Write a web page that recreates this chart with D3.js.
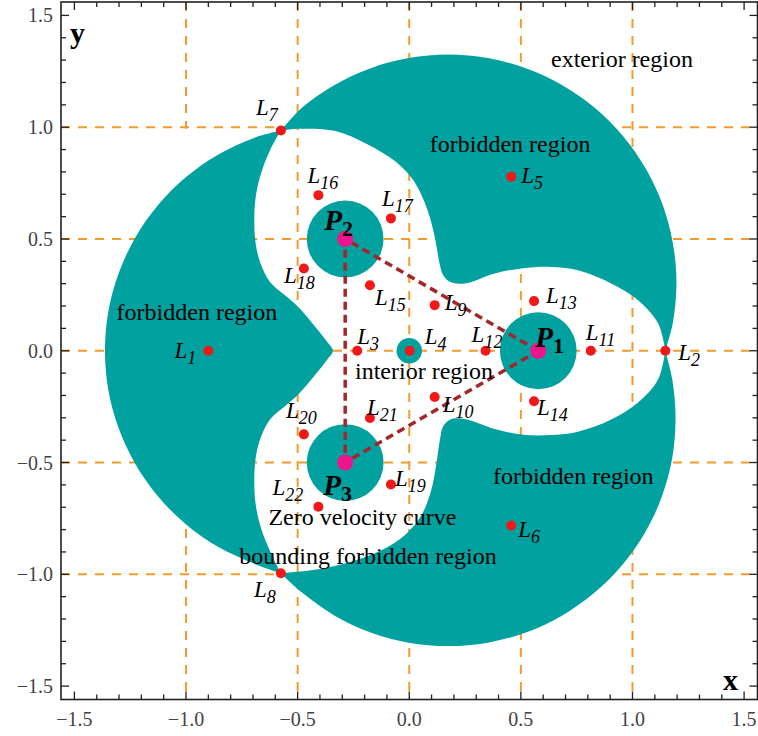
<!DOCTYPE html>
<html><head><meta charset="utf-8">
<script src="https://cdn.jsdelivr.net/npm/d3@7"></script>
<style>body{margin:0;background:#fff}svg{display:block}</style>
</head><body><svg id="c" width="758" height="736"></svg>
<script>
// ---------------- data ----------------
const axisDomain = [-1.56, 1.56];
const majorTicks = [-1.5, -1.0, -0.5, 0.0, 0.5, 1.0, 1.5];
const majorTickLabels = ["\u22121.5", "\u22121.0", "\u22120.5", "0.0", "0.5", "1.0", "1.5"];
const gridValues = [-1.0, -0.5, 0.0, 0.5, 1.0];
const gridGaps = [{ axis: "x", value: -1.0, from: 0.70, to: 0.993 }];

const primaries = [
  { id: "1", x: 0.578, y: 0.000 },
  { id: "2", x: -0.287, y: 0.500 },
  { id: "3", x: -0.287, y: -0.500 }
];
const primaryDiskRadius = 0.172;
const centralDisk = { x: 0.0, y: 0.0, r: 0.057 };

const equilibria = [
  { id: 1, x: -0.900, y: 0.000 }, { id: 2, x: 1.147, y: 0.000 },
  { id: 3, x: -0.233, y: 0.000 }, { id: 4, x: 0.002, y: 0.000 },
  { id: 5, x: 0.457, y: 0.778 }, { id: 6, x: 0.457, y: -0.782 },
  { id: 7, x: -0.575, y: 0.985 }, { id: 8, x: -0.575, y: -0.995 },
  { id: 9, x: 0.114, y: 0.204 }, { id: 10, x: 0.114, y: -0.207 },
  { id: 11, x: 0.813, y: 0.000 }, { id: 12, x: 0.342, y: 0.000 },
  { id: 13, x: 0.559, y: 0.222 }, { id: 14, x: 0.559, y: -0.226 },
  { id: 15, x: -0.176, y: 0.293 }, { id: 16, x: -0.407, y: 0.696 },
  { id: 17, x: -0.082, y: 0.592 }, { id: 18, x: -0.472, y: 0.368 },
  { id: 19, x: -0.082, y: -0.598 }, { id: 20, x: -0.472, y: -0.374 },
  { id: 21, x: -0.176, y: -0.301 }, { id: 22, x: -0.407, y: -0.698 }
];

// forbidden region: three lobes (outer edge, then inner edge = zero velocity curve)
const lobeUpperOuter = [[1.147,0.000],[1.181,0.126],[1.197,0.303],[1.181,0.480],[1.135,0.653],[1.060,0.814],[0.958,0.960],[0.832,1.086],[0.686,1.188],[0.525,1.263],[0.352,1.309],[0.175,1.325],[-0.002,1.309],[-0.175,1.263],[-0.336,1.188],[-0.482,1.086],[-0.575,0.985]];
const lobeUpperInner = [[-0.575,0.985],[-0.489,0.993],[-0.330,0.983],[-0.190,0.925],[-0.060,0.845],[0.020,0.760],[0.080,0.635],[0.115,0.505],[0.137,0.385],[0.152,0.338],[0.185,0.307],[0.248,0.301],[0.383,0.346],[0.502,0.368],[0.636,0.375],[0.756,0.360],[0.905,0.301],[1.025,0.226],[1.115,0.122],[1.147,0.000]];
const lobeLeftOuter = [[-0.575,0.985],[-0.696,0.952],[-0.857,0.877],[-1.001,0.776],[-1.126,0.651],[-1.227,0.507],[-1.302,0.346],[-1.348,0.176],[-1.363,0.000],[-1.348,-0.176],[-1.302,-0.346],[-1.227,-0.507],[-1.126,-0.651],[-1.001,-0.776],[-0.857,-0.877],[-0.696,-0.952],[-0.575,-0.995]];
const lobeLeftInner = [[-0.575,-0.995],[-0.622,-0.900],[-0.662,-0.800],[-0.686,-0.700],[-0.694,-0.600],[-0.688,-0.480],[-0.666,-0.390],[-0.622,-0.305],[-0.557,-0.248],[-0.497,-0.196],[-0.415,-0.100],[-0.368,-0.040],[-0.342,0.000],[-0.368,0.040],[-0.415,0.100],[-0.497,0.196],[-0.557,0.248],[-0.622,0.305],[-0.666,0.390],[-0.688,0.480],[-0.694,0.600],[-0.686,0.700],[-0.662,0.800],[-0.622,0.900],[-0.575,0.985]];
const lobeLowerOuter = [[-0.575,-0.995],[-0.479,-1.083],[-0.334,-1.185],[-0.173,-1.260],[-0.002,-1.306],[0.175,-1.321],[0.352,-1.306],[0.523,-1.260],[0.684,-1.185],[0.829,-1.083],[0.955,-0.957],[1.057,-0.812],[1.132,-0.651],[1.178,-0.480],[1.193,-0.303],[1.178,-0.126],[1.147,0.000]];
const lobeLowerInner = [[1.147,0.000],[1.115,-0.128],[1.025,-0.232],[0.905,-0.308],[0.756,-0.362],[0.636,-0.377],[0.502,-0.375],[0.383,-0.350],[0.248,-0.305],[0.185,-0.307],[0.152,-0.338],[0.137,-0.400],[0.120,-0.515],[0.098,-0.625],[0.055,-0.735],[-0.020,-0.825],[-0.120,-0.890],[-0.265,-0.945],[-0.415,-0.978],[-0.575,-0.995]];

const regionTexts = [
  { text: "exterior region", x: 0.635, y: 1.269 },
  { text: "forbidden region", x: 0.092, y: 0.890 },
  { text: "forbidden region", x: -1.311, y: 0.137 },
  { text: "interior region", x: -0.243, y: -0.128 },
  { text: "forbidden region", x: 0.375, y: -0.594 },
  { text: "Zero velocity curve", x: -0.631, y: -0.781 },
  { text: "bounding forbidden region", x: -0.761, y: -0.956 }
];

// ---------------- layout ----------------
const labelOffset = {
  1:[-12,7,"end"], 2:[13,9], 3:[0,-7], 4:[15,-7], 5:[10,6], 6:[7,11], 7:[-25,-16], 8:[-27,24],
  9:[10,5], 10:[8,15], 11:[-5,-11], 12:[-14,-9], 13:[12,2], 14:[3,14], 15:[5,20], 16:[-11,-12],
  17:[-9,-12], 18:[-20,15], 19:[4,2], 20:[-18,-16], 21:[-3,-3], 22:[-46,-12]
};
const primaryOffset = { "1": [-3,-4], "2": [-21,-9], "3": [-22,32] };

const C = {
  teal: "#00a19f", grid: "#f49a2f", tri: "#a3262a", red: "#f01818",
  magenta: "#ec158c", frame: "#222", tick: "#444", serif: "'Liberation Serif','Times New Roman',serif"
};

const svg = d3.select("#c");
const x = d3.scaleLinear().domain(axisDomain).range([61, 757.5]);
const y = d3.scaleLinear().domain(axisDomain).range([699.5, 2]);

svg.append("rect").attr("width", 758).attr("height", 736).attr("fill", "#fff");

// grid
const gG = svg.append("g").attr("stroke", C.grid).attr("stroke-width", 2).attr("stroke-dasharray", "9,8");
gridValues.forEach(v => {
  gG.append("line").attr("x1", x(v)).attr("x2", x(v)).attr("y1", y(axisDomain[1])).attr("y2", y(axisDomain[0]));
  gG.append("line").attr("y1", y(v)).attr("y2", y(v)).attr("x1", x(axisDomain[0])).attr("x2", x(axisDomain[1]));
});
gridGaps.forEach(g => {
  svg.append("line").attr("x1", x(g.value)).attr("x2", x(g.value))
    .attr("y1", y(g.to)).attr("y2", y(g.from)).attr("stroke", "#fff").attr("stroke-width", 4);
});

// forbidden region
const line = d3.line().x(d => x(d[0])).y(d => y(d[1])).curve(d3.curveCatmullRom.alpha(0.5));
function lobe(outer, inner) { return line(outer) + "L" + line(inner).slice(1) + "Z"; }
const fG = svg.append("g").attr("fill", C.teal);
[[lobeUpperOuter, lobeUpperInner], [lobeLeftOuter, lobeLeftInner], [lobeLowerOuter, lobeLowerInner]]
  .forEach(([o, i]) => fG.append("path").attr("d", lobe(o, i)));
const rpx = r => x(r) - x(0);
primaries.forEach(p => fG.append("circle").attr("cx", x(p.x)).attr("cy", y(p.y)).attr("r", rpx(primaryDiskRadius)));
fG.append("circle").attr("cx", x(centralDisk.x)).attr("cy", y(centralDisk.y)).attr("r", rpx(centralDisk.r));

// triangle of primaries
svg.append("path")
  .attr("d", d3.line().x(d => x(d.x)).y(d => y(d.y))([...primaries, primaries[0]]))
  .attr("fill", "none").attr("stroke", C.tri).attr("stroke-width", 3.5).attr("stroke-dasharray", "8,5");

// equilibrium points
svg.append("g").selectAll("circle").data(equilibria).join("circle")
  .attr("cx", d => x(d.x)).attr("cy", d => y(d.y)).attr("r", 5).attr("fill", C.red);
svg.append("g").selectAll("circle").data(primaries).join("circle")
  .attr("cx", d => x(d.x)).attr("cy", d => y(d.y)).attr("r", 8).attr("fill", C.magenta);

// labels
const lG = svg.append("g").attr("font-family", C.serif).attr("fill", "#000");
equilibria.forEach(d => {
  const o = labelOffset[d.id];
  const t = lG.append("text").attr("x", x(d.x) + o[0]).attr("y", y(d.y) + o[1])
    .attr("text-anchor", o[2] || "start").attr("font-style", "italic");
  t.append("tspan").attr("font-size", 23).text("L");
  t.append("tspan").attr("font-size", 18).attr("dy", 6).text(d.id);
});
primaries.forEach(p => {
  const o = primaryOffset[p.id];
  const t = lG.append("text").attr("x", x(p.x) + o[0]).attr("y", y(p.y) + o[1]).attr("font-weight", "bold");
  t.append("tspan").attr("font-size", 29).attr("font-style", "italic").text("P");
  t.append("tspan").attr("font-size", 22).attr("dy", 6).text(p.id);
});
regionTexts.forEach(r => {
  lG.append("text").attr("x", x(r.x)).attr("y", y(r.y)).attr("font-size", 24).text(r.text);
});

// frame and ticks
const aG = svg.append("g");
aG.append("rect").attr("x", x(axisDomain[0])).attr("y", y(axisDomain[1]))
  .attr("width", x(axisDomain[1]) - x(axisDomain[0])).attr("height", y(axisDomain[0]) - y(axisDomain[1]))
  .attr("fill", "none").attr("stroke", C.frame).attr("stroke-width", 1.6);
const minor = d3.range(-15, 16).map(i => i / 10).filter(v => Math.abs(v * 2 - Math.round(v * 2)) > 1e-6);
const tk = aG.append("g").attr("stroke", C.frame).attr("stroke-width", 1.3);
const X0 = x(axisDomain[0]), X1 = x(axisDomain[1]), Y0 = y(axisDomain[0]), Y1 = y(axisDomain[1]);
[[majorTicks, 8], [minor, 5]].forEach(([vals, len]) => {
  vals.forEach(v => {
    tk.append("line").attr("x1", x(v)).attr("x2", x(v)).attr("y1", Y0).attr("y2", Y0 - len);
    tk.append("line").attr("x1", x(v)).attr("x2", x(v)).attr("y1", Y1).attr("y2", Y1 + len);
    tk.append("line").attr("y1", y(v)).attr("y2", y(v)).attr("x1", X0).attr("x2", X0 + len);
    tk.append("line").attr("y1", y(v)).attr("y2", y(v)).attr("x1", X1).attr("x2", X1 - len);
  });
});
const tl = aG.append("g").attr("font-family", C.serif).attr("font-size", 20).attr("fill", C.tick);
majorTicks.forEach((v, i) => {
  tl.append("text").attr("x", x(v)).attr("y", 726).attr("text-anchor", "middle").text(majorTickLabels[i]);
  tl.append("text").attr("x", 53).attr("y", y(v) + 7).attr("text-anchor", "end").text(majorTickLabels[i]);
});
aG.append("text").attr("x", 70).attr("y", 43).attr("font-family", C.serif).attr("font-weight", "bold").attr("font-size", 30).text("y");
aG.append("text").attr("x", 723).attr("y", 690).attr("font-family", C.serif).attr("font-weight", "bold").attr("font-size", 30).text("x");
</script></body></html>
